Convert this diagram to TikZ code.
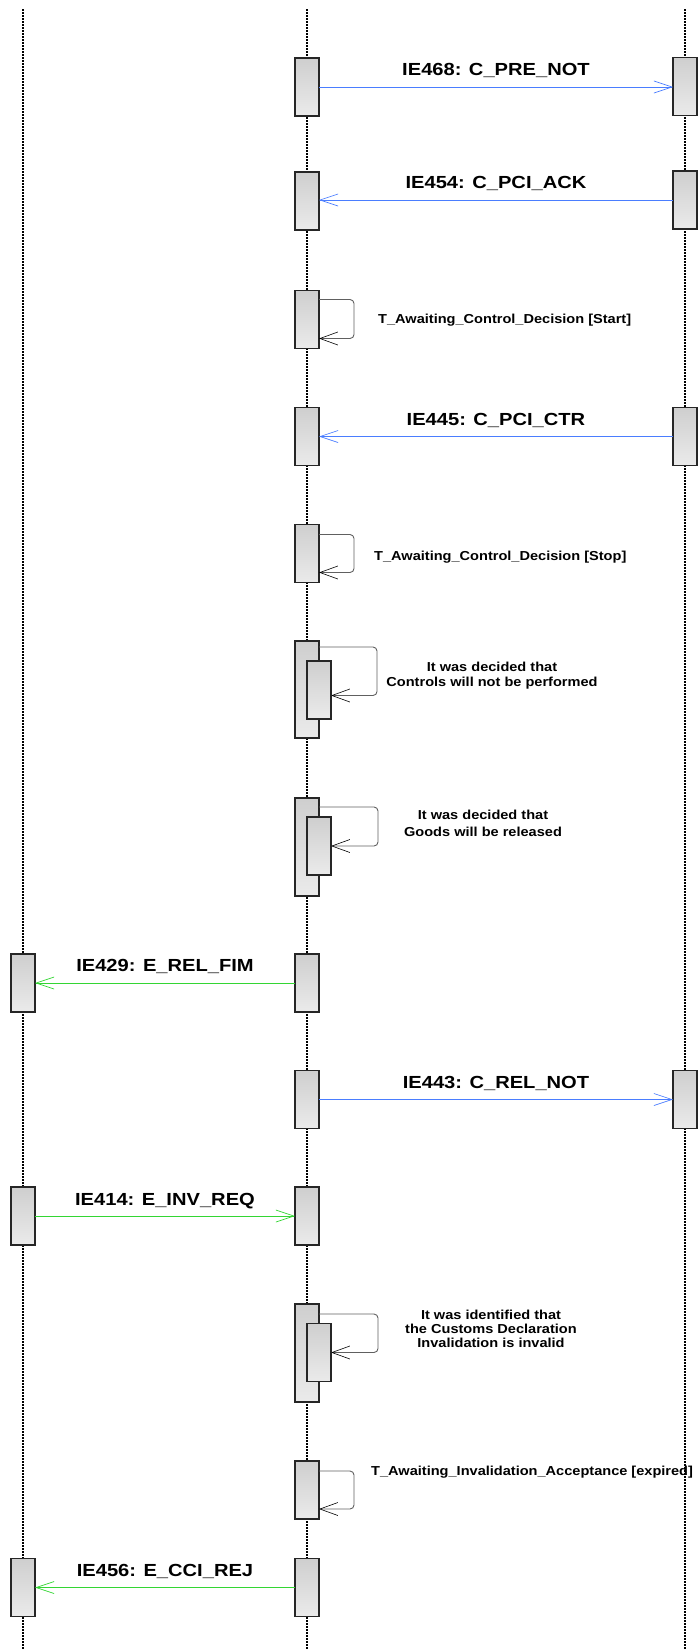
\documentclass[tikz,border=0pt]{standalone}
\usepackage{fontspec}
\setmainfont{Liberation Sans}
\usetikzlibrary{arrows.meta}
\definecolor{msgblue}{HTML}{4A7DFF}
\definecolor{msggreen}{HTML}{33D633}
\definecolor{loopgray}{HTML}{606060}
\begin{document}
\begin{tikzpicture}[x=1pt,y=-1pt,
  act/.style={draw=black!85, line width=1.1pt, top color=black!19, bottom color=black!8,
    minimum width=24pt, minimum height=58pt, inner sep=0pt, outer sep=0pt},
  tall/.style={act, minimum height=97pt},
  lifeline/.style={line width=1.1pt, dash pattern=on 1.6pt off 1.4pt},
  msg/.style={line width=0.9pt, -{Straight Barb[length=18pt,width=12pt,line width=0.7pt]}},
  bluemsg/.style={msg, msgblue},
  greenmsg/.style={msg, msggreen},
  selfloop/.style={loopgray, line width=0.9pt, rounded corners=4pt,
    -{Straight Barb[length=18pt,width=13pt,line width=0.6pt,color=black]}},
  lbl/.style={font=\bfseries\fontsize{17.5}{20}\selectfont, xscale=1.15, anchor=base, inner sep=0pt},
  note/.style={font=\bfseries\fontsize{13}{15}\selectfont, xscale=1.12, inner sep=0pt, align=center}]
\useasboundingbox (0,0) rectangle (700,1649);
% lifelines
\coordinate (lt) at (23,9);  \coordinate (lb) at (23,1649);
\coordinate (mt) at (307,9); \coordinate (mb) at (307,1649);
\coordinate (rt) at (685,9); \coordinate (rb) at (685,1649);
\draw[lifeline] (lt) -- (lb);
\draw[lifeline] (mt) -- (mb);
\draw[lifeline] (rt) -- (rb);
% middle activations
\node[act] (b1) at (307,87) {};
\node[act] (b2) at (307,201) {};
\node[act] (b3) at (307,319.5) {};
\node[act] (b4) at (307,436.5) {};
\node[act] (b5) at (307,553.5) {};
\node[tall] (b6) at (307,689.5) {};
\node[tall, minimum height=98pt] (b7) at (307,847) {};
\node[act] (b8) at (307,983) {};
\node[act] (b9) at (307,1099.5) {};
\node[act] (b10) at (307,1216) {};
\node[tall, minimum height=98pt] (b11) at (307,1353) {};
\node[act] (b12) at (307,1490) {};
\node[act] (b13) at (307,1587.5) {};
% right activations
\node[act] (r1) at (685,86.5) {};
\node[act] (r2) at (685,200) {};
\node[act] (r4) at (685,436.5) {};
\node[act] (r9) at (685,1099.5) {};
% left activations
\node[act] (l8) at (23,983) {};
\node[act] (l10) at (23,1216) {};
\node[act] (l13) at (23,1587.5) {};
% nested loops (drawn before inner boxes)
\draw[selfloop] ([yshift=-6pt]b6.north east) -- ++(58,0) |- ([yshift=-6pt]b6.east -| 331,0);
\draw[selfloop] ([yshift=-9pt]b7.north east) -- ++(59,0) |- (331,846);
\draw[selfloop] ([yshift=-10pt]b11.north east) -- ++(59,0) |- (331,1352.5);
\node[act] (i6) at (319,690) {};
\node[act] (i7) at (319,846) {};
\node[act] (i11) at (319,1352.5) {};
% messages
\draw[bluemsg] (b1.east) -- (r1.west |- b1.east);
\node[lbl] (t1) at (496,75) {IE468: C\_PRE\_NOT};
\draw[bluemsg] (r2.west) -- (b2.east |- r2.west);
\node[lbl] (t2) at (496,188) {IE454: C\_PCI\_ACK};
\draw[bluemsg] (r4.west) -- (b4.east |- r4.west);
\node[lbl] (t4) at (496,425) {IE445: C\_PCI\_CTR};
\draw[greenmsg] (b8.west) -- (l8.east |- b8.west);
\node[lbl] (t8) at (165,971) {IE429: E\_REL\_FIM};
\draw[bluemsg] (b9.east) -- (r9.west |- b9.east);
\node[lbl] (t9) at (496,1088) {IE443: C\_REL\_NOT};
\draw[greenmsg] (l10.east) -- (b10.west |- l10.east);
\node[lbl] (t10) at (165,1205) {IE414: E\_INV\_REQ};
\draw[greenmsg] (b13.west) -- (l13.east |- b13.west);
\node[lbl] (t13) at (165,1576) {IE456: E\_CCI\_REJ};
% simple self loops
\draw[selfloop] ([yshift=-9pt]b3.north east) -- ++(35,0) |- ([yshift=10pt]b3.south east);
\draw[selfloop] ([yshift=-10pt]b5.north east) -- ++(35,0) |- ([yshift=10pt]b5.south east);
\draw[selfloop] ([yshift=-10pt]b12.north east) -- ++(35,0) |- ([yshift=10pt]b12.south east);
% notes
\node[note, anchor=west] (n3) at (378,320) {T\_Awaiting\_Control\_Decision [Start]};
\node[note, anchor=west] (n5) at (374,557) {T\_Awaiting\_Control\_Decision [Stop]};
\node[note] (n6) at (492,675.5) {It was decided that\\Controls will not be performed};
\node[note, font=\bfseries\fontsize{13}{17}\selectfont] (n7) at (483,823) {It was decided that\\Goods will be released};
\node[note, font=\bfseries\fontsize{13}{14}\selectfont] (n11) at (491,1329) {It was identified that\\the Customs Declaration\\Invalidation is invalid};
\node[note, anchor=west] (n12) at (371,1472) {T\_Awaiting\_Invalidation\_Acceptance [expired]};
\end{tikzpicture}
\end{document}
